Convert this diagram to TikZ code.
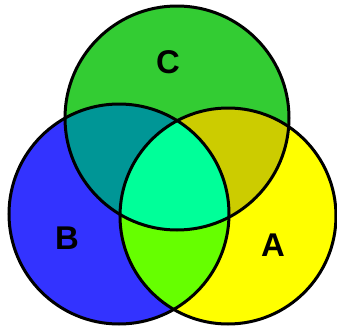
\documentclass[tikz,border=0pt]{standalone}
\usepackage{fontspec}
\setmainfont{Liberation Sans}
\definecolor{setA}{RGB}{255,255,0}
\definecolor{setB}{RGB}{51,51,255}
\definecolor{setC}{RGB}{51,204,51}
\definecolor{setAB}{RGB}{102,255,0}
\definecolor{setAC}{RGB}{204,204,0}
\definecolor{setBC}{RGB}{0,150,150}
\definecolor{setABC}{RGB}{0,255,153}
\begin{document}
\begin{tikzpicture}[
    x=1bp, y=-1bp,
    every node/.style={font=\fontsize{33}{33}\selectfont\bfseries},
    ring/.style={draw=black, line width=3bp}
]
    \useasboundingbox (0,0) rectangle (337,329);
    \coordinate (cA) at (228,216);
    \coordinate (cB) at (119,214);
    \coordinate (cC) at (177,118);
    % single sets
    \fill[setA] (cA) circle (108);
    \fill[setB] (cB) circle (110);
    \fill[setC] (cC) circle (112);
    % pairwise overlaps
    \begin{scope}
        \clip (cA) circle (108);
        \fill[setAC] (cC) circle (112);
        \fill[setAB] (cB) circle (110);
    \end{scope}
    \begin{scope}
        \clip (cB) circle (110);
        \fill[setBC] (cC) circle (112);
    \end{scope}
    % all three
    \begin{scope}
        \clip (cA) circle (108);
        \clip (cB) circle (110);
        \fill[setABC] (cC) circle (112);
    \end{scope}
    % outlines
    \draw[ring] (cA) circle (108);
    \draw[ring] (cB) circle (110);
    \draw[ring] (cC) circle (112);
    \node (labC) at (168,62) {C};
    \node (labB) at (67,238) {B};
    \node (labA) at (273,245) {A};
\end{tikzpicture}
\end{document}
